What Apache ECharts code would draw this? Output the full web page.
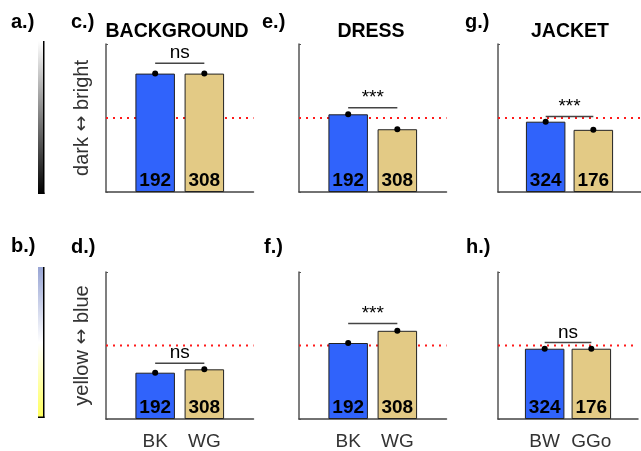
<!DOCTYPE html>
<html>
<head>
<meta charset="utf-8">
<script src="https://cdn.jsdelivr.net/npm/echarts@6/dist/echarts.min.js"></script>
<style>
  html, body { margin: 0; padding: 0; background: #fff; }
  #chart { width: 641px; height: 451px; }
</style>
</head>
<body>
<div id="chart"></div>
<script>
// Column titles and group labels (one column per garment region)
const titles = ['BACKGROUND', 'DRESS', 'JACKET'];
const groupLabels = [['BK', 'WG'], ['BK', 'WG'], ['BW', 'GGo']];
const counts = [[192, 308], [192, 308], [324, 176]];

// Mean normalised ratings (0..1); 0.5 is the neutral point
const brightness = [[0.80, 0.80], [0.525, 0.424], [0.475, 0.42]];
const yellowBlue = [[0.315, 0.338], [0.517, 0.60], [0.478, 0.478]];
const neutral = 0.5;

// Significance annotations and the height of their brackets
const brightnessSig = ['ns', '***', '***'];
const yellowBlueSig = ['ns', '***', 'ns'];
const brightnessBracket = [0.87, 0.57, 0.51];
const yellowBlueBracket = [0.38, 0.65, 0.52];

const rowNames = [['dark', 'bright'], ['yellow', 'blue']];
const panelLetters = [['c.)', 'e.)', 'g.)'], ['d.)', 'f.)', 'h.)']];

const FONT = '"Liberation Sans", Arial, Helvetica, sans-serif';
const BLUE = '#3063fb';
const TAN = '#e3ca85';

const colLeft = [106, 299, 498];
const rowTop = [44, 272];
const rowHeight = [148, 147];
const gridWidth = 147.5;

const rows = [
  { values: brightness, sig: brightnessSig, bracket: brightnessBracket },
  { values: yellowBlue, sig: yellowBlueSig, bracket: yellowBlueBracket }
];

const grid = [], xAxis = [], yAxis = [], series = [];

rows.forEach((row, r) => {
  for (let c = 0; c < 3; c++) {
    const idx = grid.length;
    grid.push({ left: colLeft[c], top: rowTop[r], width: gridWidth, height: rowHeight[r] });
    xAxis.push({
      type: 'value', gridIndex: idx, min: 0, max: 3, interval: 1,
      axisLine: { show: true, lineStyle: { color: '#444', width: 1.5 } },
      axisTick: { show: false },
      splitLine: { show: false },
      axisLabel: {
        show: r === 1, margin: 13, fontSize: 19, color: '#333', fontFamily: FONT,
        formatter: v => groupLabels[c][v - 1] || ''
      }
    });
    yAxis.push({
      type: 'value', gridIndex: idx, min: 0, max: 1, interval: 1,
      axisLine: { show: true, lineStyle: { color: '#555', width: 1.5 } },
      axisTick: { show: true, inside: true, length: 2, lineStyle: { color: '#555' } },
      splitLine: { show: false },
      axisLabel: { show: false },
      name: c === 0 ? '{w|' + rowNames[r][0] + '} {arr|\u2194} {w|' + rowNames[r][1] + '}' : '',
      nameLocation: 'middle', nameGap: 14, nameRotate: 90,
      nameTextStyle: {
        fontSize: 20, color: '#333', fontFamily: FONT,
        rich: {
          w: { fontSize: 20, color: '#333', fontFamily: FONT },
          arr: { fontSize: 19, color: '#333', fontFamily: '"DejaVu Sans", sans-serif' }
        }
      }
    });

    const vals = row.values[c];
    // neutral reference line, drawn behind the bars
    series.push({
      type: 'line', xAxisIndex: idx, yAxisIndex: idx, z: 1, silent: true,
      symbol: 'none', data: [[0, neutral], [3, neutral]],
      lineStyle: { color: '#ff1a1a', width: 2, type: [2, 5] }
    });
    series.push({
      type: 'bar', xAxisIndex: idx, yAxisIndex: idx, z: 2, barWidth: 39.5,
      data: vals.map((v, i) => ({
        value: [i + 1, v],
        itemStyle: { color: i === 0 ? BLUE : TAN, borderColor: '#222', borderWidth: 1 }
      })),
      label: {
        show: true, position: 'insideBottom', distance: 2,
        fontSize: 19, fontWeight: 'bold', color: '#000', fontFamily: FONT,
        formatter: p => String(counts[c][p.dataIndex])
      }
    });
    // mean markers
    series.push({
      type: 'scatter', xAxisIndex: idx, yAxisIndex: idx, z: 4,
      symbolSize: 6, itemStyle: { color: '#000', opacity: 1 },
      data: vals.map((v, i) => [i + 1, v])
    });
    // significance bracket with its annotation as the line's label
    const h = row.bracket[c];
    series.push({
      type: 'line', xAxisIndex: idx, yAxisIndex: idx, z: 3, silent: true,
      symbol: 'none', data: [[1, h], [2, h]],
      lineStyle: { color: '#444', width: 1.5 },
      markPoint: {
        symbol: 'rect', symbolSize: 1, silent: true,
        itemStyle: { color: 'rgba(0,0,0,0)' },
        data: [{ coord: [1.5, h] }],
        label: {
          show: true, position: 'top', distance: 0, opacity: 1,
          fontSize: 19, color: '#000', fontFamily: FONT,
          formatter: () => row.sig[c]
        }
      }
    });
  }
});

const titleCenters = [172, 366, 565];
const title = titles.map((t, i) => ({
  text: t, left: titleCenters[i], top: 17, textAlign: 'center',
  textStyle: { fontSize: 19.5, fontWeight: 'bold', color: '#000', fontFamily: FONT }
}));

const letterX = [[71, 262, 465], [71, 264, 466]];
const letterY = [23, 248];
const graphic = [];
panelLetters.forEach((rowL, r) => rowL.forEach((t, c) => {
  graphic.push({
    type: 'text', left: letterX[r][c], top: letterY[r] - 11,
    style: { text: t, fontSize: 20, fontWeight: 'bold', fill: '#000', fontFamily: FONT }
  });
}));
graphic.push(
  { type: 'text', left: 11, top: 12, style: { text: 'a.)', fontSize: 20, fontWeight: 'bold', fill: '#000', fontFamily: FONT } },
  { type: 'text', left: 11, top: 236, style: { text: 'b.)', fontSize: 20, fontWeight: 'bold', fill: '#000', fontFamily: FONT } },
  // colour scale strips
  {
    type: 'rect', shape: { x: 38, y: 41, width: 5, height: 153 },
    style: { fill: new echarts.graphic.LinearGradient(0, 0, 0, 1, [
      { offset: 0, color: '#ffffff' }, { offset: 1, color: '#000000' }]) }
  },
  { type: 'rect', shape: { x: 43, y: 41, width: 1.5, height: 153 }, style: { fill: '#000' } },
  { type: 'rect', shape: { x: 38, y: 192.5, width: 6.5, height: 1.5 }, style: { fill: '#000' } },
  {
    type: 'rect', shape: { x: 38, y: 267, width: 5, height: 151 },
    style: { fill: new echarts.graphic.LinearGradient(0, 0, 0, 1, [
      { offset: 0, color: '#98a5d4' }, { offset: 0.5, color: '#ffffff' },
      { offset: 1, color: '#ffff5a' }]) }
  },
  { type: 'rect', shape: { x: 43, y: 267, width: 1.5, height: 151 }, style: { fill: '#000' } },
  { type: 'rect', shape: { x: 38, y: 416.5, width: 6.5, height: 1.5 }, style: { fill: '#000' } }
);

const chart = echarts.init(document.getElementById('chart'), null, { renderer: 'canvas' });
chart.setOption({
  animation: false,
  backgroundColor: '#fff',
  title, grid, xAxis, yAxis, series, graphic
});
</script>
</body>
</html>
